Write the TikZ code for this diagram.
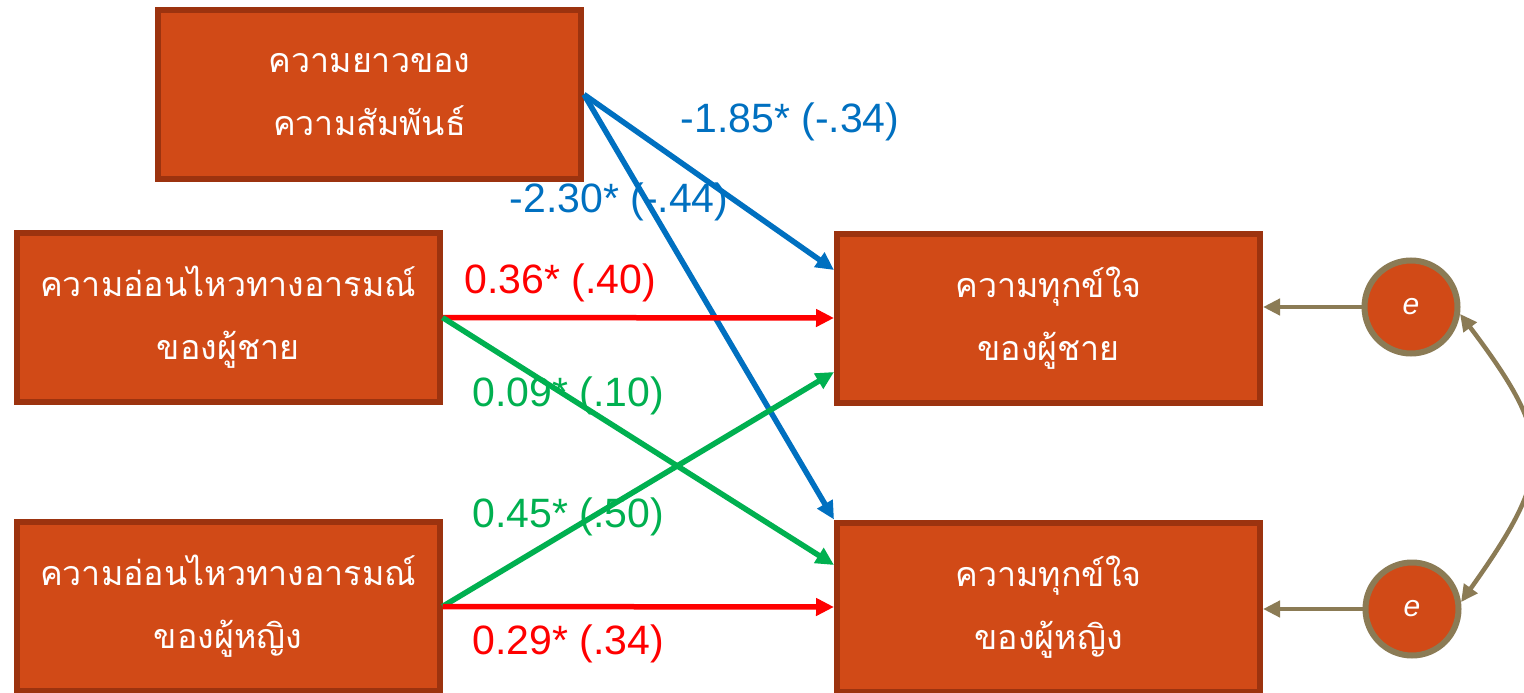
\documentclass[tikz,border=0pt]{standalone}
\usepackage{fontspec}
\setmainfont{Liberation Sans}
\newfontfamily\thaifont[Script=Thai]{Loma}
\usetikzlibrary{arrows.meta}
\definecolor{boxfill}{RGB}{209,74,23}
\definecolor{boxedge}{RGB}{156,51,15}
\definecolor{pblue}{RGB}{0,112,192}
\definecolor{pred}{RGB}{255,0,0}
\definecolor{pgreen}{RGB}{0,176,80}
\definecolor{pbrown}{RGB}{139,123,85}
\begin{document}
\begin{tikzpicture}[x=1pt,y=-1pt,
  varbox/.style={draw=boxedge, fill=boxfill, line width=6pt, minimum width=423pt,
    minimum height=169pt, inner sep=0pt, text=white, align=center,
    font=\thaifont\fontsize{34}{63}\selectfont},
  errnode/.style={circle, draw=pbrown, fill=boxfill, line width=6pt, minimum size=93pt,
    inner sep=0pt, text=white, font=\fontsize{30}{30}\selectfont\itshape},
  arr/.style={line width=5.5pt, -{Triangle[length=18pt,width=17pt]}},
  brarr/.style={line width=4.5pt, draw=pbrown, -{Triangle[length=17pt,width=16pt]}},
  coef/.style={font=\fontsize{41}{41}\selectfont, inner sep=0pt}
]
\clip (0,0) rectangle (1524,693);
\fill[white] (0,0) rectangle (1524,693);

\node[varbox] (A) at (369.5,94.5) {ความยาวของ\\ความสัมพันธ์};
\node[varbox] (B) at (228,317.5) {ความอ่อนไหวทางอารมณ์\\ของผู้ชาย};
\node[varbox] (C) at (228,606.5) {ความอ่อนไหวทางอารมณ์\\ของผู้หญิง};
\node[varbox] (D) at (1048.5,318) {ความทุกข์ใจ\\ของผู้ชาย};
\node[varbox] (E) at (1048.5,607) {ความทุกข์ใจ\\ของผู้หญิง};

\node[errnode] (e1) at (1411,307) {e};
\node[errnode] (e2) at (1412,609) {e};

\node[coef, text=pblue] (l1) at (790,122) {-1.85* (-.34)};
\node[coef, text=pblue] (l2) at (619,202) {-2.30* (-.44)};
\node[coef, text=pred] (l3) at (560,283) {0.36* (.40)};
\node[coef, text=pgreen] (l4) at (568,396) {0.09* (.10)};
\node[coef, text=pgreen] (l5) at (568,517) {0.45* (.50)};
\node[coef, text=pred] (l6) at (568,644) {0.29* (.34)};

\draw[arr, pblue] (A.east) -- ([yshift=48pt]D.west);
\draw[arr, pblue] (A.east) -- (E.north west);
\draw[arr, pred] (B.east) -- (D.west);
\draw[arr, pgreen] (B.east) -- ([yshift=42pt]E.west);
\draw[arr, pgreen] (C.east) -- ([yshift=-54pt]D.west);
\draw[arr, pred] (C.east) -- (E.west);

\draw[brarr] (e1.west) -- (e1 -| D.east);
\draw[brarr] (e2.west) -- (e2 -| E.east);
\draw[line width=4.5pt, draw=pbrown, {Triangle[length=17pt,width=16pt]}-{Triangle[length=17pt,width=16pt]}]
  (e1.-8) .. controls (1555,440) and (1555,470) .. (e2.8);
\end{tikzpicture}
\end{document}
